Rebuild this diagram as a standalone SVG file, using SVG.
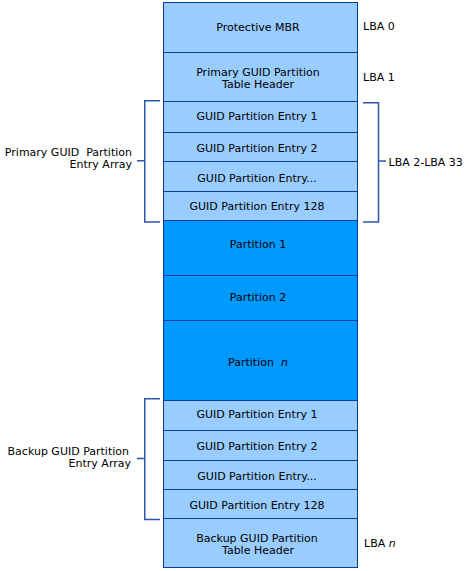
<svg xmlns="http://www.w3.org/2000/svg" width="465" height="571" viewBox="0 0 465 571">
<style>
.l{fill:#99ccff;stroke:#0a3a9a;stroke-width:1}
.d{fill:#0099ff;stroke:#0a3a9a;stroke-width:1}
text{font-family:"DejaVu Sans",Verdana,sans-serif;font-size:11px;fill:#000}
.c{text-anchor:middle}
.r{text-anchor:end}
.br{fill:none;stroke:#2a55a8;stroke-width:1.5}
</style>
<rect width="465" height="571" fill="#fff"/>
<g id="protective-mbr"><rect class="l" x="163.5" y="2.5" width="194" height="50"/><text class="c" x="258" y="31">Protective MBR</text></g>
<g id="primary-header"><rect class="l" x="163.5" y="52.5" width="194" height="49"/><text class="c" x="258" y="76">Primary GUID Partition</text><text class="c" x="258" y="88">Table Header</text></g>
<g id="p-entry-1"><rect class="l" x="163.5" y="101.5" width="194" height="31"/><text class="c" x="257" y="120">GUID Partition Entry 1</text></g>
<g id="p-entry-2"><rect class="l" x="163.5" y="132.5" width="194" height="29"/><text class="c" x="257" y="151.5">GUID Partition Entry 2</text></g>
<g id="p-entry-dots"><rect class="l" x="163.5" y="161.5" width="194" height="30"/><text class="c" x="257" y="181.5">GUID Partition Entry...</text></g>
<g id="p-entry-128"><rect class="l" x="163.5" y="191.5" width="194" height="29"/><text class="c" x="257" y="210">GUID Partition Entry 128</text></g>
<g id="partition-1"><rect class="d" x="163.5" y="220.5" width="194" height="55"/><text class="c" x="258" y="247.5">Partition 1</text></g>
<g id="partition-2"><rect class="d" x="163.5" y="275.5" width="194" height="45"/><text class="c" x="258" y="300.5">Partition 2</text></g>
<g id="partition-n"><rect class="d" x="163.5" y="320.5" width="194" height="80"/><text class="c" x="258" y="366" xml:space="preserve">Partition  <tspan font-style="italic">n</tspan></text></g>
<g id="b-entry-1"><rect class="l" x="163.5" y="400.5" width="194" height="30"/><text class="c" x="257" y="417.5">GUID Partition Entry 1</text></g>
<g id="b-entry-2"><rect class="l" x="163.5" y="430.5" width="194" height="30"/><text class="c" x="257" y="449.5">GUID Partition Entry 2</text></g>
<g id="b-entry-dots"><rect class="l" x="163.5" y="460.5" width="194" height="29"/><text class="c" x="257" y="479.5">GUID Partition Entry...</text></g>
<g id="b-entry-128"><rect class="l" x="163.5" y="489.5" width="194" height="29"/><text class="c" x="257" y="508.5">GUID Partition Entry 128</text></g>
<g id="backup-header"><rect class="l" x="163.5" y="518.5" width="194" height="49"/><text class="c" x="257" y="541.5">Backup GUID Partition</text><text class="c" x="258" y="553.5">Table Header</text></g>
<g id="lba-labels">
<text x="363" y="30">LBA 0</text>
<text x="363" y="80.5">LBA 1</text>
<text x="388.5" y="166">LBA 2-LBA 33</text>
<text x="364" y="547">LBA <tspan font-style="italic">n</tspan></text>
</g>
<g id="array-labels">
<text class="r" x="132" y="156" xml:space="preserve">Primary GUID  Partition</text>
<text class="r" x="132" y="168">Entry Array</text>
<text class="r" x="129" y="455">Backup GUID Partition</text>
<text class="r" x="131" y="467">Entry Array</text>
</g>
<g id="connectors">
<path class="br" d="M160,100.75 H144.75 V222 H160 M137,160.75 H144.75"/>
<path class="br" d="M363,102.75 H378.5 V222 H363 M378.5,161 H386"/>
<path class="br" d="M160,398.75 H144.75 V519.5 H160 M137,458.5 H144.75"/>
</g>
</svg>
